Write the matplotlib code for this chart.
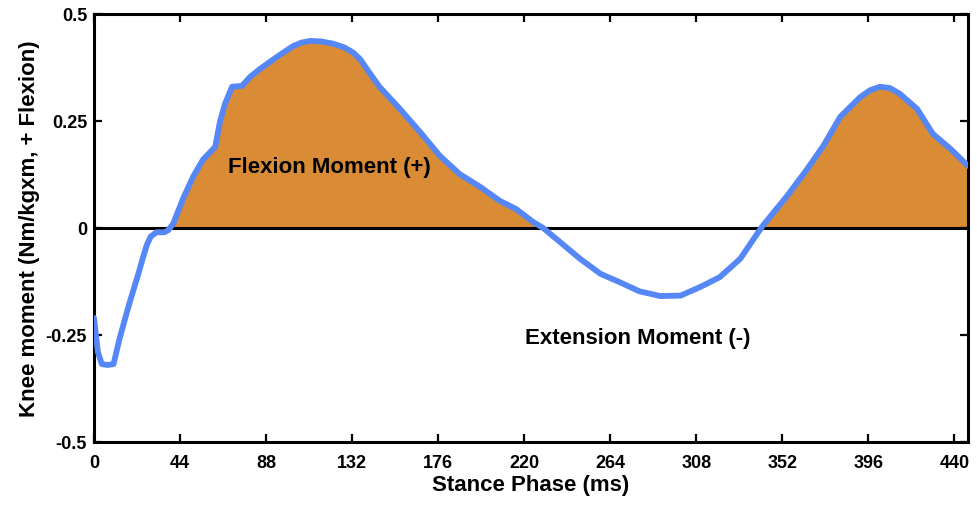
import matplotlib
matplotlib.use("Agg")
import matplotlib.pyplot as plt
import numpy as np

plt.rcParams['font.family'] = ['Liberation Sans', 'DejaVu Sans']
plt.rcParams['axes.unicode_minus'] = False

# Knee moment over stance phase
stance_ms = [0, 2, 4, 7, 10, 13, 16, 18.5, 22.5, 25, 27, 29, 32, 36, 38, 40.5,
             45.5, 50.7, 55.8, 60, 62, 64.5, 67, 70.6, 75.7, 79.8, 85, 93.6,
             101.8, 106, 110.5, 116, 122, 128, 132.5, 136, 141, 146, 156.5, 166.8,
             177, 187, 197.5, 207.7, 216, 224.6, 229.7, 238.4, 248.6, 259, 269,
             279, 289.6, 300, 310, 320, 330.5, 339.7, 342, 354.5, 364.8, 373,
             381.7, 391.9, 397, 402, 407, 412, 421, 429, 438, 447]
knee_moment = [-0.21, -0.29, -0.318, -0.32, -0.318, -0.26, -0.21, -0.17, -0.11,
               -0.07, -0.04, -0.02, -0.01, -0.01, -0.005, 0.01,
               0.068, 0.12, 0.16, 0.18, 0.19, 0.25, 0.29, 0.33, 0.332, 0.353,
               0.372, 0.40, 0.425, 0.433, 0.437, 0.436, 0.431, 0.422, 0.41, 0.395,
               0.362, 0.33, 0.278, 0.224, 0.168, 0.126, 0.096, 0.063, 0.044, 0.014,
               0.0, -0.033, -0.072, -0.107, -0.127, -0.148, -0.159, -0.158, -0.138,
               -0.115, -0.072, -0.01, 0.005, 0.075, 0.138, 0.192, 0.26, 0.306,
               0.322, 0.33, 0.327, 0.314, 0.278, 0.22, 0.185, 0.145]

xticks = [0, 44, 88, 132, 176, 220, 264, 308, 352, 396, 440]
yticks = [-0.5, -0.25, 0, 0.25, 0.5]
ytick_labels = ['-0.5', '-0.25', '0', '0.25', '0.5']

x = np.array(stance_ms)
y = np.array(knee_moment)

fig = plt.figure(figsize=(9.77, 5.10), dpi=100)
ax = fig.add_axes([0.0962, 0.1314, 0.8946, 0.8392])

ax.fill_between(x, y, 0, where=y > 0, interpolate=True, color='#D98B36',
                linewidth=0, zorder=1)
ax.axhline(0, color='black', linewidth=2.2, zorder=2)
ax.plot(x, y, color='#5587F7', linewidth=4.2, solid_joinstyle='round',
        solid_capstyle='round', zorder=3)

ax.text(68.6, 0.143, 'Flexion Moment (+)', fontsize=16, fontweight='bold',
        ha='left', va='center', zorder=4)
ax.text(220.5, -0.257, 'Extension Moment (-)', fontsize=16, fontweight='bold',
        ha='left', va='center', zorder=4)

ax.set_xlim(0, 447)
ax.set_ylim(-0.5, 0.5)
ax.set_xticks(xticks)
ax.set_yticks(yticks)
ax.set_yticklabels(ytick_labels)
ax.tick_params(direction='in', length=6, width=1.6, top=True, right=True,
               labelsize=13)
ax.tick_params(axis='x', pad=9)
ax.tick_params(axis='y', pad=5)
for lab in ax.get_xticklabels() + ax.get_yticklabels():
    lab.set_fontweight('bold')
for sp in ax.spines.values():
    sp.set_linewidth(2.2)

ax.set_xlabel('Stance Phase (ms)', fontsize=16, fontweight='bold', labelpad=2)
ax.set_ylabel('Knee moment (Nm/kgxm, + Flexion)', fontsize=16,
              fontweight='bold', labelpad=4)

fig.savefig('out.png', dpi=100)
